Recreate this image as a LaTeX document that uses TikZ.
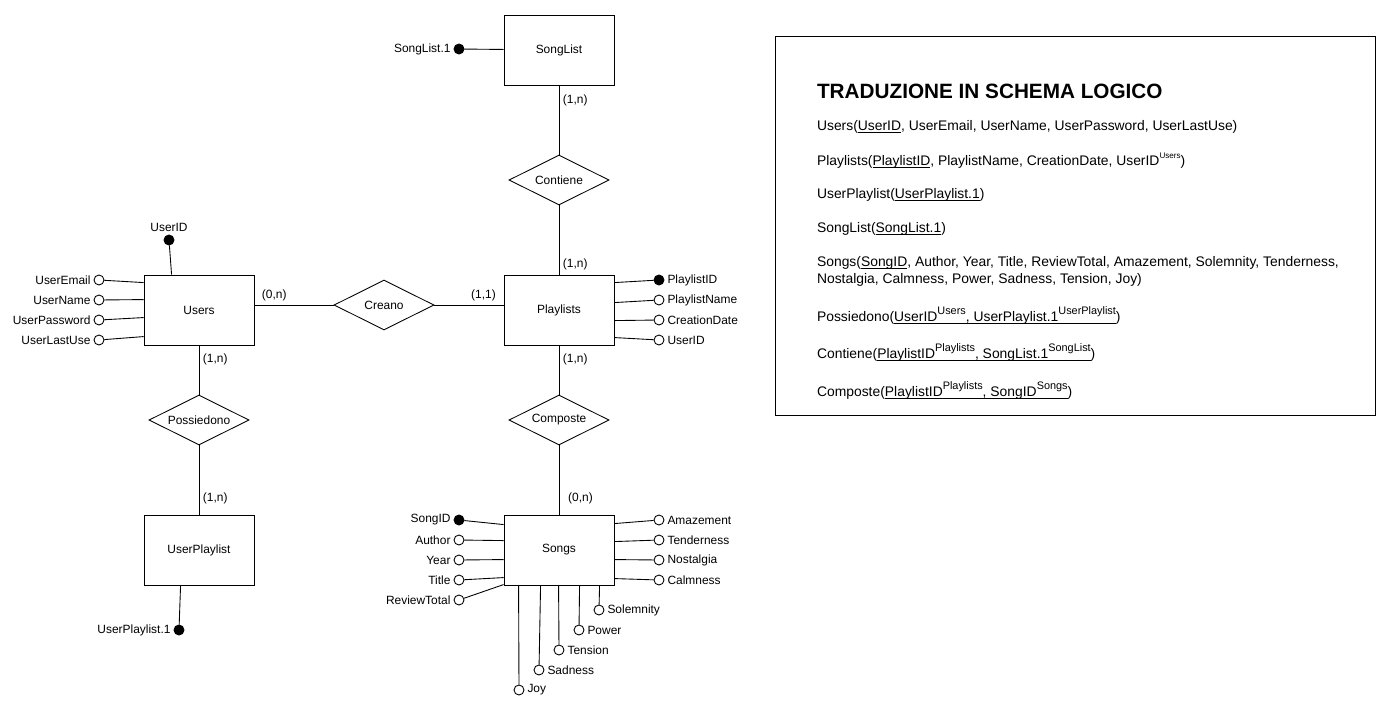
\documentclass[tikz,border=0pt]{standalone}
\usepackage{fontspec}
\setmainfont{Liberation Sans}
\usetikzlibrary{shapes.geometric, positioning, calc}

\newcommand{\supbig}[1]{\raisebox{3.8pt}{\fontsize{6.2}{7}\selectfont #1}}
\newcommand{\supsmall}[1]{\raisebox{3.6pt}{\fontsize{4.6}{5}\selectfont #1}}
\newcommand{\keyul}[1]{\setbox0=\hbox{#1}\rlap{\rule[-1.3pt]{\wd0}{0.45pt}}\box0}

\begin{document}
\begin{tikzpicture}[x=0.02cm, y=-0.02cm, line width=0.5pt,
  every node/.style={font=\fontsize{6.8}{8}\selectfont},
  every label/.append style={inner sep=1.5pt},
  entity/.style={draw, rectangle, minimum width=2.2cm, minimum height=1.4cm},
  relation/.style={draw, diamond, aspect=2, minimum width=2cm, minimum height=1cm, inner sep=0pt},
  attr/.style={draw, circle, fill=white, minimum size=0.2cm, inner sep=0pt},
  key/.style={attr, fill=black},
  card/.style={inner sep=2pt},
  schema/.style={anchor=base west, inner sep=0pt, font=\fontsize{7.9}{9.5}\selectfont}]
\useasboundingbox (0,0) rectangle (1400,721);

% Entities and relations
\node[entity] (songlist) at (559,50) {SongList};
\node[entity] (playlists) at (559,310) {Playlists};
\node[entity] (users) at (199,310) {Users};
\node[entity] (userpl) at (199,550) {UserPlaylist};
\node[entity] (songs) at (559,550) {Songs};
\node[relation] (contiene) at (559,180) {Contiene};
\node[relation] (creano) at (384,305) {Creano};
\node[relation] (possiedono) at (199,420) {Possiedono};
\node[relation] (composte) at (559,420) {Composte};

% Links with cardinalities
\draw (songlist) -- node[card, right, pos=0.21] {(1,n)} (contiene);
\draw (contiene) -- node[card, right, pos=0.86] {(1,n)} (playlists);
\draw (playlists) -- node[card, right, pos=0.28] {(1,n)} (composte);
\draw (composte) -- node[card, right, pos=0.77, xshift=3pt] {(0,n)} (songs);
\draw (users) -- node[card, right, pos=0.28] {(1,n)} (possiedono);
\draw (possiedono) -- node[card, right, pos=0.77] {(1,n)} (userpl);
\draw (users.east |- creano) -- node[card, above, pos=0.25] {(0,n)} (creano);
\draw (creano) -- node[card, above, pos=0.71] {(1,1)} (playlists.west |- creano);

% Identifiers
\node[key, label=above:UserID] (uid) at (169,240) {};
\draw (uid) -- ($(users.north west)+(28,0)$);
\node[key, label=left:SongList.1] (sl1) at (459,49) {};
\draw (sl1) -- (songlist);
\node[key, label=left:UserPlaylist.1] (up1) at (179,630) {};
\draw (up1) -- ($(userpl.south west)+(37,0)$);

% Users attributes
\foreach \nm/\txt/\sty/\cy/\by in {ue/UserEmail/attr/280/8, un/UserName/attr/300/25,
    upw/UserPassword/attr/320/43, ulu/UserLastUse/attr/340/62} {
  \node[\sty, label=left:\txt] (\nm) at (99,\cy) {};
  \draw (\nm) -- ($(users.north west)+(0,\by)$);
}
% Playlists attributes
\foreach \nm/\txt/\sty/\cy/\by in {pid/PlaylistID/key/280/8, pname/PlaylistName/attr/300/28,
    cdate/CreationDate/attr/320/46, puid/UserID/attr/340/63} {
  \node[\sty, label=right:\txt] (\nm) at (659,\cy) {};
  \draw (\nm) -- ($(playlists.north east)+(0,\by)$);
}
% Songs attributes
\foreach \nm/\txt/\sty/\cy/\by in {sid/SongID/key/520/10, author/Author/attr/540/26,
    year/Year/attr/560/45, title/Title/attr/580/63, rtot/ReviewTotal/attr/600/70} {
  \node[\sty, label=left:\txt] (\nm) at (459,\cy) {};
  \draw (\nm) -- ($(songs.north west)+(0,\by)$);
}
\foreach \nm/\txt/\cy/\by in {amaz/Amazement/520/9, tend/Tenderness/540/27,
    nost/Nostalgia/560/45, calm/Calmness/580/64} {
  \node[attr, label=right:\txt] (\nm) at (659,\cy) {};
  \draw (\nm) -- ($(songs.north east)+(0,\by)$);
}
\foreach \nm/\txt/\cx/\cy/\bx in {joy/Joy/519/690/15, sad/Sadness/539/670/37,
    tens/Tension/559/650/55, pow/Power/579/630/76, sol/Solemnity/599/610/96} {
  \node[attr, label=right:\txt] (\nm) at (\cx,\cy) {};
  \draw (\nm) -- ($(songs.south west)+(\bx,0)$);
}

% Logical schema
\node[draw, rectangle, minimum width=12cm, minimum height=7.58cm] (logic) at (1075,225.5) {};
\node[schema, font=\fontsize{11.8}{14}\selectfont\bfseries] (ltitle) at ($(logic.north west)+(42,63)$) {TRADUZIONE IN SCHEMA LOGICO};
\node[schema] (lusers) at ($(logic.north west)+(42,95)$) {Users(\keyul{UserID}, UserEmail, UserName, UserPassword, UserLastUse)};
\node[schema] (lplay) at ($(logic.north west)+(42,129.7)$) {Playlists(\keyul{PlaylistID}, PlaylistName, CreationDate, UserID\supsmall{Users})};
\node[schema] (luserpl) at ($(logic.north west)+(42,163)$) {UserPlaylist(\keyul{UserPlaylist.1})};
\node[schema] (lsonglist) at ($(logic.north west)+(42,197)$) {SongList(\keyul{SongList.1})};
\node[schema] (lsongs) at ($(logic.north west)+(42,231)$) {Songs(\keyul{SongID}, Author, Year, Title, ReviewTotal, Amazement, Solemnity, Tenderness,};
\node[schema] (lsongsb) at ($(logic.north west)+(42,248)$) {Nostalgia, Calmness, Power, Sadness, Tension, Joy)};
\node[schema] (lposs) at ($(logic.north west)+(42,285.7)$) {Possiedono(\keyul{UserID\supbig{Users}, UserPlaylist.1\supbig{UserPlaylist}})};
\node[schema] (lcont) at ($(logic.north west)+(42,323)$) {Contiene(\keyul{PlaylistID\supbig{Playlists}, SongList.1\supbig{SongList}})};
\node[schema] (lcomp) at ($(logic.north west)+(42,360.7)$) {Composte(\keyul{PlaylistID\supbig{Playlists}, SongID\supbig{Songs}})};
\end{tikzpicture}
\end{document}
